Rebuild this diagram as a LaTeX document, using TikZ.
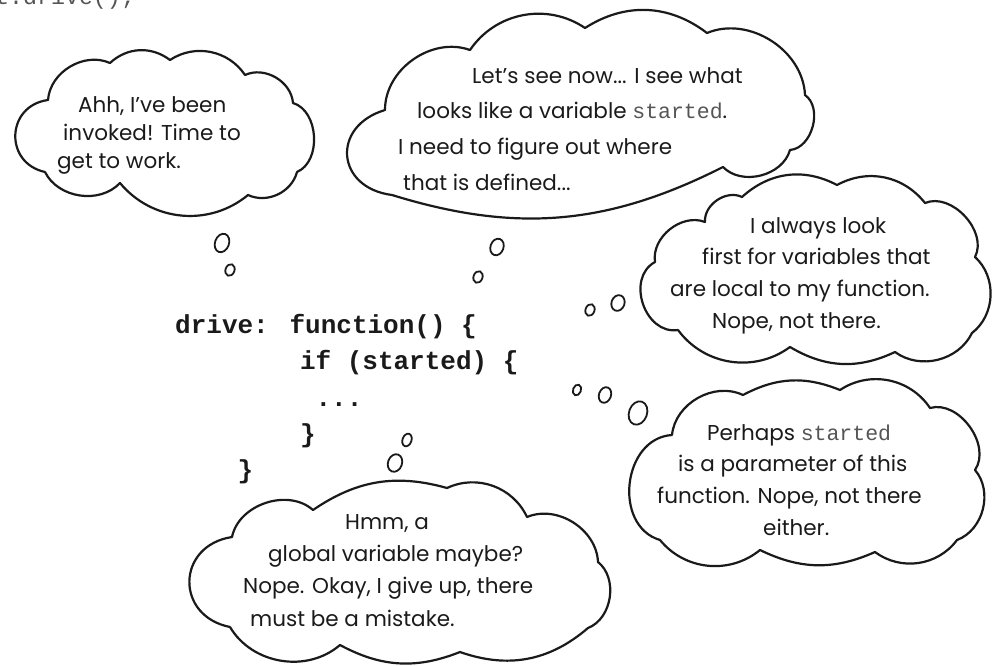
\documentclass[tikz,border=0pt]{standalone}
\usepackage{fontspec}
\setmainfont{Poppins}
\newfontfamily\codefont{Liberation Mono}
\definecolor{ink}{HTML}{1A1A1A}
\definecolor{codegray}{HTML}{555555}
\newcommand\varname[1]{{\codefont\color{codegray}#1}}
\begin{document}
\begin{tikzpicture}[x=1pt,y=-1pt,
  cloudline/.style={draw=ink, line width=2.2pt, line join=round, line cap=round},
  bubble/.style={draw=ink, line width=1.8pt},
  say/.style={font=\fontsize{21.5}{#1}\selectfont, text=ink, align=left, inner sep=0pt, anchor=north west},
  code/.style={font=\codefont\bfseries\fontsize{26}{36.3}\selectfont, text=ink, align=left, inner sep=0pt, anchor=north west}]
\useasboundingbox (0,0) rectangle (993,666);
\clip (0,0) rectangle (993,666);

% partly visible line at the top
\node[font=\codefont\fontsize{23.3}{28}\selectfont, text=codegray, inner sep=0pt, anchor=base west] (top) at (-47,5) {fiat.drive();};

% cloud 1
\draw[cloudline] (45,172) to[bend left=80, looseness=1.5] (48,100)
  to[bend left=55] (110,63) to[bend left=40] (170,60) to[bend left=45] (245,75)
  to[bend left=55] (293,103) to[bend left=70] (297,172) to[bend left=50] (248,195)
  to[bend left=45] (120,183) to[bend left=55] (45,172);
\node[say=28] (t1) at (57,96) {\hspace*{21pt}Ahh, I’ve been\\\hspace*{6pt}invoked! Time to\\get to work.};
\draw[bubble, rotate around={-20:(222,243)}] (222,243) ellipse (7 and 9.5);
\draw[bubble, rotate around={-20:(230,270)}] (230,270) ellipse (4.5 and 6);

% cloud 2
\draw[cloudline] (392,195) to[bend left=78, looseness=1.7] (385,110)
  to[bend left=55] (470,50) to[bend left=45] (585,28) to[bend left=35] (707,33)
  to[bend left=55] (805,95) to[bend left=70] (790,150) to[bend left=60] (723,167)
  to[bend left=22] (392,195);
\node[say=35.7] (t2) at (398,67) {\hspace*{74pt}Let’s see now... I see what\\\hspace*{19pt}looks like a variable \varname{started}.\\I need to figure out where\\\hspace*{5pt}that is defined...};
\draw[bubble, rotate around={-20:(497,247)}] (497,247) ellipse (6.5 and 8.5);
\draw[bubble, rotate around={-20:(478,277)}] (478,277) ellipse (4.5 and 6);

% cloud 3
\draw[cloudline] (678,330) to[bend left=80, looseness=1.2] (655,262)
  to[bend left=60] (705,222) to[bend left=60] (742,197) to[bend left=35] (837,185)
  to[bend left=40] (925,203) to[bend left=70] (975,257) to[bend left=50] (972,333)
  to[bend left=50] (895,352) to[bend left=28] (790,347) to[bend left=45] (678,330);
\node[say=31.7] (t3) at (670,217) {\hspace*{80pt}I always look\\\hspace*{32pt}first for variables that\\are local to my function.\\\hspace*{42pt}Nope, not there.};
\draw[bubble, rotate around={-20:(590,310)}] (590,310) ellipse (4.5 and 6);
\draw[bubble, rotate around={-20:(618,303)}] (618,303) ellipse (6.5 and 8);

% cloud 4
\draw[cloudline] (660,540) to[bend left=80, looseness=1.2] (672,435)
  to[bend left=55] (743,395) to[bend left=25] (840,390) to[bend left=45] (930,408)
  to[bend left=70] (975,470) to[bend left=55] (957,540) to[bend left=45] (875,552)
  to[bend left=25] (760,550) to[bend left=45] (660,540);
\node[say=31.7] (t4) at (657,424) {\hspace*{50pt}Perhaps \varname{started}\\\hspace*{21pt}is a parameter of this\\function. Nope, not there\\\hspace*{106pt}either.};
\draw[bubble, rotate around={-20:(577,390)}] (577,390) ellipse (4 and 5.5);
\draw[bubble, rotate around={-20:(605,395)}] (605,395) ellipse (6 and 8);
\draw[bubble, rotate around={-20:(638,413)}] (638,413) ellipse (9 and 12);

% cloud 5
\draw[cloudline] (230,627) to[bend left=80, looseness=1.6] (232,537)
  to[bend left=60] (313,510) to[bend left=25] (447,488) to[bend left=45] (527,517)
  to[bend left=55] (598,562) to[bend left=60] (588,628) to[bend left=30] (460,652)
  to[bend left=25] (340,645) to[bend left=50] (230,627);
\node[say=32.3] (t5) at (243,514) {\hspace*{102pt}Hmm, a\\\hspace*{25pt}global variable maybe?\\Nope. Okay, I give up, there\\\hspace*{7pt}must be a mistake.};
\draw[bubble, rotate around={-20:(407,440)}] (407,440) ellipse (4.5 and 6.5);
\draw[bubble, rotate around={-20:(395,463)}] (395,463) ellipse (7 and 9);

% code
\node[code] (code) at (175,314) {drive: function() \{\\\hspace*{4.8em}if (started) \{\\\hspace*{5.4em}...\\\hspace*{4.8em}\}\\\hspace*{2.4em}\}};
\end{tikzpicture}
\end{document}
